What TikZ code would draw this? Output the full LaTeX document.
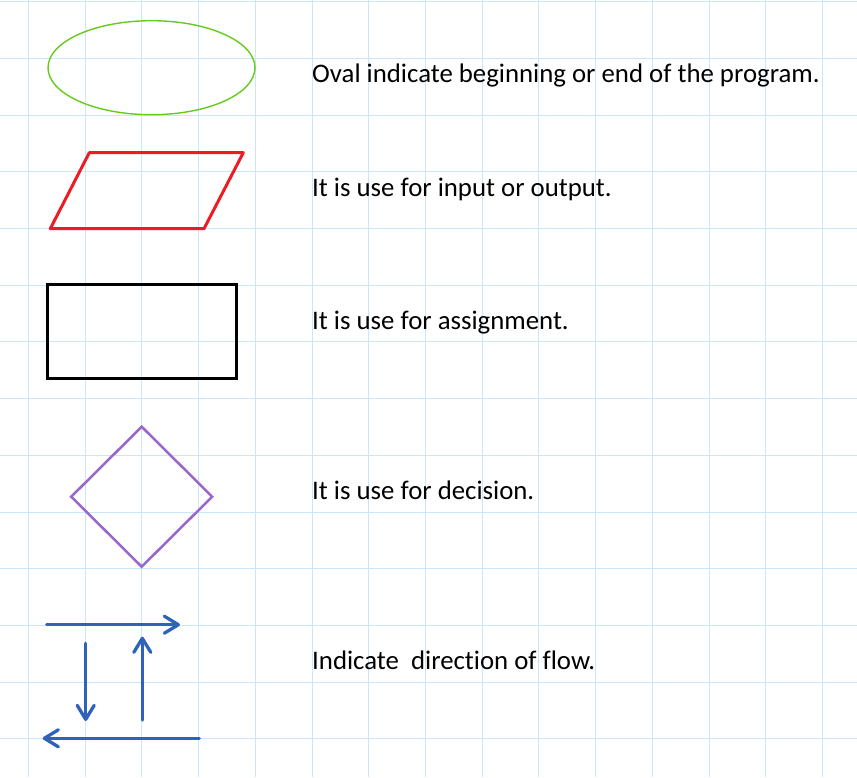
\documentclass[tikz,border=0pt]{standalone}
\usepackage{fontspec}
\setmainfont{Carlito}[Ligatures=NoCommon]
\usetikzlibrary{arrows.meta,shapes.geometric}
\definecolor{gridblue}{HTML}{C9E7F8}
\definecolor{ovalgreen}{HTML}{66CC1A}
\definecolor{iored}{HTML}{ED1C24}
\definecolor{decpurple}{HTML}{9966CC}
\definecolor{flowblue}{HTML}{2F63BB}
\tikzset{gridline/.style={gridblue,line width=1pt},terminal/.style={ellipse,draw=ovalgreen,line width=1.4pt,minimum width=207pt,minimum height=94pt,inner sep=0pt},inout/.style={iored,line width=3pt,line join=round},process/.style={rectangle,draw=black,line width=3pt,minimum width=189pt,minimum height=93.5pt,inner sep=0pt},decision/.style={diamond,draw=decpurple,line width=2.5pt,minimum width=142pt,minimum height=141pt,aspect=1,inner sep=0pt},flow/.style={flowblue,line width=3.3pt,line cap=round,-{Straight Barb[length=14pt,width=17pt,round]}},legend/.style={anchor=base west,inner sep=0pt,font=\fontsize{26.8}{32}\selectfont}}

\begin{document}
\begin{tikzpicture}[x=1pt,y=-1pt]
\useasboundingbox[fill=white] (0,0) rectangle (857,777);
\foreach \k in {0,...,14}{\draw[gridline] (28.3+56.74*\k,0) -- (28.3+56.74*\k,777);}
\foreach \k in {0,...,13}{\draw[gridline] (0,1.7+56.7*\k) -- (857,1.7+56.7*\k);}
\node[terminal] (oval) at (151.5,67.7) {};
\draw[inout] (50.3,228.7) -- (89.3,152.7) -- (243.3,152.7) -- (204,228.7) -- cycle;
\node[process] (box) at (141.8,331.5) {};
\node[decision] (dec) at (141.7,496.7) {};
\coordinate (t1) at (46.7,624.7); \coordinate (t2) at (180,624.7);
\coordinate (d1) at (85.7,643.3); \coordinate (d2) at (85.7,721);
\coordinate (u1) at (142.3,720); \coordinate (u2) at (142.3,636.7);
\coordinate (b1) at (199.3,738.3); \coordinate (b2) at (42.7,738.3);
\draw[flow] (t1) -- (t2);
\draw[flow] (d1) -- (d2);
\draw[flow] (u1) -- (u2);
\draw[flow] (b1) -- (b2);
\node[legend] (l1) at (312,82.3) {Oval indicate beginning or end of the program.};
\node[legend] (l2) at (312,196.7) {It is use for input or output.};
\node[legend] (l3) at (312,329) {It is use for assignment.};
\node[legend] (l4) at (312,499) {It is use for decision.};
\node[legend] (l5) at (312,669) {Indicate\ \ direction of flow.};
\end{tikzpicture}
\end{document}
